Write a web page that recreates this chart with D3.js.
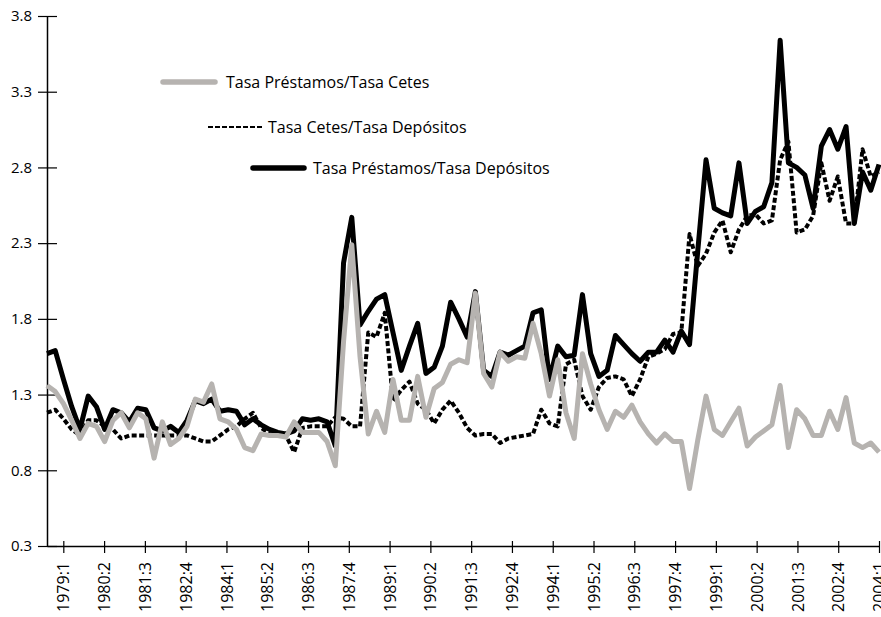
<!DOCTYPE html>
<html>
<head>
<meta charset="utf-8">
<script src="https://cdn.jsdelivr.net/npm/d3@7"></script>
<style>
  html, body { margin: 0; padding: 0; background: #fff; }
  svg text { font-family: "Open Sans", "Noto Sans", sans-serif; fill: #000; }
</style>
</head>
<body>
<svg id="chart" width="881" height="617"></svg>
<script>
// ---- data (quarterly ratios, 102 observations) ----
const prestamosCetes = [
  1.36,1.32,1.24,1.13,1.01,1.11,1.09,0.99,1.13,1.18,
  1.08,1.18,1.14,0.88,1.12,0.97,1.01,1.09,1.27,1.25,
  1.37,1.14,1.12,1.07,0.95,0.93,1.04,1.03,1.03,1.02,
  1.12,1.05,1.05,1.05,0.99,0.83,1.65,2.29,1.55,1.04,
  1.19,1.05,1.40,1.13,1.13,1.42,1.15,1.34,1.38,1.50,
  1.53,1.51,1.97,1.44,1.35,1.58,1.52,1.55,1.54,1.77,
  1.57,1.29,1.53,1.18,1.01,1.57,1.37,1.20,1.07,1.19,
  1.15,1.23,1.12,1.04,0.98,1.04,0.99,0.99,0.68,1.00,
  1.29,1.07,1.03,1.12,1.21,0.96,1.02,1.06,1.10,1.36,
  0.95,1.20,1.14,1.03,1.03,1.19,1.07,1.28,0.98,0.95,
  0.98,0.92
];
const cetesDepositos = [
  1.18,1.20,1.14,1.07,1.03,1.13,1.13,1.09,1.07,1.01,
  1.03,1.03,1.03,1.03,1.03,1.03,1.03,1.03,1.01,0.99,
  0.99,1.03,1.07,1.09,1.14,1.18,1.08,1.04,1.03,1.03,
  0.92,1.08,1.09,1.09,1.09,1.15,1.14,1.09,1.09,1.71,
  1.68,1.84,1.26,1.33,1.385,1.24,1.20,1.11,1.20,1.26,
  1.18,1.08,1.03,1.04,1.04,0.98,1.01,1.02,1.03,1.04,
  1.20,1.11,1.09,1.50,1.53,1.29,1.20,1.35,1.41,1.42,
  1.40,1.29,1.40,1.55,1.57,1.60,1.70,1.71,2.36,2.15,
  2.23,2.37,2.45,2.24,2.39,2.48,2.49,2.43,2.45,2.85,
  2.97,2.37,2.39,2.48,2.83,2.58,2.74,2.43,2.43,2.92,
  2.74,2.77
];
const prestamosDepositos = [
  1.57,1.59,1.40,1.22,1.07,1.29,1.22,1.07,1.20,1.18,
  1.12,1.21,1.20,1.08,1.06,1.09,1.05,1.13,1.26,1.24,
  1.27,1.19,1.20,1.19,1.10,1.14,1.10,1.07,1.05,1.04,
  1.06,1.14,1.13,1.14,1.12,0.96,2.17,2.47,1.76,1.85,
  1.93,1.96,1.71,1.46,1.62,1.77,1.44,1.48,1.62,1.91,
  1.80,1.68,1.98,1.46,1.42,1.58,1.56,1.59,1.62,1.84,
  1.86,1.40,1.62,1.55,1.56,1.96,1.57,1.42,1.46,1.69,
  1.63,1.57,1.52,1.58,1.58,1.66,1.58,1.72,1.63,2.25,
  2.85,2.53,2.50,2.48,2.83,2.43,2.51,2.54,2.70,3.64,
  2.83,2.80,2.75,2.53,2.94,3.05,2.92,3.07,2.43,2.77,
  2.65,2.82
];
const yTickValues = [0.3, 0.8, 1.3, 1.8, 2.3, 2.8, 3.3, 3.8];
const xTickLabels = ["1979:1","1980:2","1981:3","1982:4","1984:1","1985:2","1986:3",
  "1987:4","1989:1","1990:2","1991:3","1992:4","1994:1","1995:2","1996:3","1997:4",
  "1999:1","2000:2","2001:3","2002:4","2004:1"];
const seriesNames = ["Tasa Préstamos/Tasa Cetes", "Tasa Cetes/Tasa Depósitos", "Tasa Préstamos/Tasa Depósitos"];

// ---- layout ----
const plotLeft = 47, plotRight = 879, plotTop = 16, plotBottom = 546;
const svg = d3.select("#chart");

const qNum = s => { const [yy, q] = s.split(":").map(Number); return yy * 4 + (q - 1); };
const axisStart = qNum("1978:3"), axisEnd = qNum("2004:1");

const xAxisScale = d3.scaleLinear().domain([axisStart, axisEnd]).range([plotLeft, plotRight]);
const xData = d3.scaleLinear().domain([0, prestamosDepositos.length - 1]).range([plotLeft, plotRight]);
const yScale = d3.scaleLinear().domain([0.3, 3.8]).range([plotBottom, plotTop]);

// ---- y axis ----
const yAxis = d3.axisLeft(yScale).tickValues(yTickValues).tickFormat(d3.format(".1f"))
  .tickSizeInner(9).tickSizeOuter(0).tickPadding(6);
const gy = svg.append("g").attr("transform", `translate(${plotLeft},0)`).call(yAxis);
gy.select(".domain").attr("stroke", "#000").attr("stroke-width", 1.5);
gy.selectAll(".tick line").attr("x1", -9).attr("x2", 10).attr("stroke", "#000").attr("stroke-width", 1.2);
gy.selectAll(".tick text").style("font-size", "15px").attr("fill", "#000")
  .style("font-family", "'Open Sans', sans-serif");

// ---- x axis ----
const xAxis = d3.axisBottom(xAxisScale).tickValues(xTickLabels.map(qNum))
  .tickFormat((d, i) => xTickLabels[i]).tickSizeInner(7).tickSizeOuter(0).tickPadding(6);
const gx = svg.append("g").attr("transform", `translate(0,${plotBottom})`).call(xAxis);
gx.select(".domain").attr("stroke", "#000").attr("stroke-width", 1.5);
gx.selectAll(".tick line").attr("y1", -5).attr("y2", 7).attr("stroke", "#000").attr("stroke-width", 1.2);
gx.selectAll(".tick text")
  .style("font-size", "16px").attr("fill", "#000")
  .style("font-family", "'Open Sans', sans-serif")
  .attr("text-anchor", "end")
  .attr("transform", "rotate(-90)")
  .attr("x", -16).attr("y", 0).attr("dy", "0.35em");

// ---- lines ----
const line = d3.line().x((d, i) => xData(i)).y(d => yScale(d));

svg.append("path").datum(prestamosDepositos)
  .attr("d", line).attr("fill", "none").attr("stroke", "#000")
  .attr("stroke-width", 5).attr("stroke-linejoin", "round");

svg.append("path").datum(cetesDepositos)
  .attr("d", line).attr("fill", "none").attr("stroke", "#000")
  .attr("stroke-width", 4).attr("stroke-dasharray", "5,2.5").attr("stroke-linejoin", "round");

svg.append("path").datum(prestamosCetes)
  .attr("d", line).attr("fill", "none").attr("stroke", "#b6b3b0")
  .attr("stroke-width", 5).attr("stroke-linejoin", "round");

// ---- legend ----
const legend = [
  { name: seriesNames[0], x1: 163, x2: 215, y: 82, stroke: "#b6b3b0", w: 5.5, dash: null, cap: "round", tx: 226 },
  { name: seriesNames[1], x1: 208, x2: 263, y: 127, stroke: "#000", w: 2.2, dash: "5,2", cap: "butt", tx: 268 },
  { name: seriesNames[2], x1: 253, x2: 304, y: 168, stroke: "#000", w: 5.5, dash: null, cap: "round", tx: 313 }
];
const lg = svg.append("g");
legend.forEach(d => {
  lg.append("line").attr("x1", d.x1).attr("x2", d.x2).attr("y1", d.y).attr("y2", d.y)
    .attr("stroke", d.stroke).attr("stroke-width", d.w).attr("stroke-linecap", d.cap)
    .attr("stroke-dasharray", d.dash);
  lg.append("text").attr("x", d.tx).attr("y", d.y).attr("dy", "0.35em")
    .style("font-size", "16px").text(d.name);
});
</script>
</body>
</html>
